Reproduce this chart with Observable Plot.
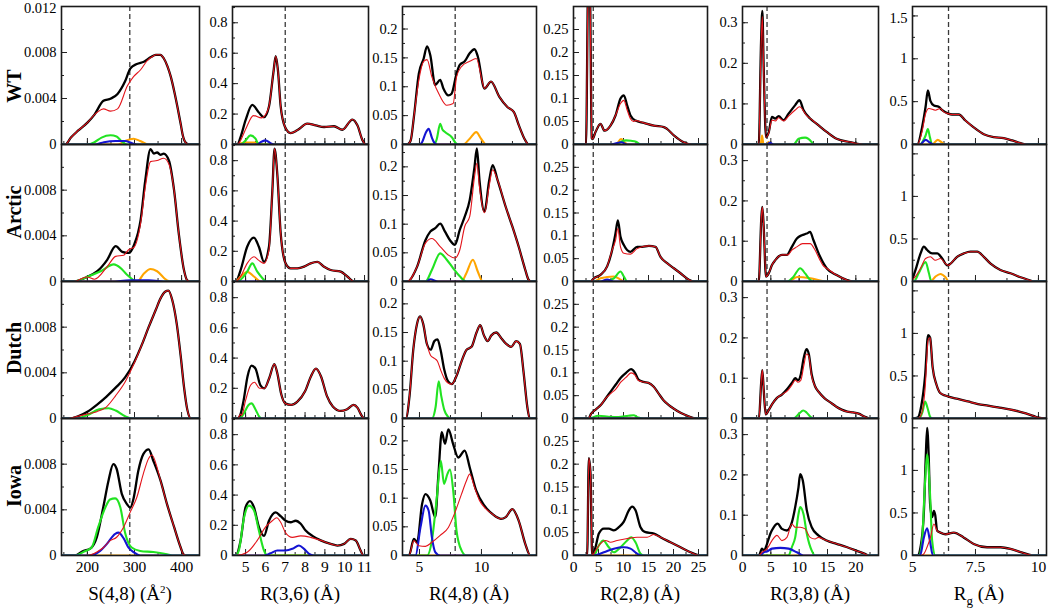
<!DOCTYPE html>
<html><head><meta charset="utf-8">
<script src="https://cdn.jsdelivr.net/npm/d3@7"></script>
<script src="https://cdn.jsdelivr.net/npm/@observablehq/plot@0.6"></script>
<style>
body{margin:0;background:#fff;}
#root{position:relative;width:1050px;height:611px;overflow:hidden;font-family:'Liberation Serif','Times New Roman',serif;color:#000;}
.panel{position:absolute;}
.panel svg{overflow:visible;}
.panel svg text{font-family:'Liberation Serif','Times New Roman',serif !important;}
.rowlab{position:absolute;font-weight:bold;font-size:20px;transform:translate(-50%,-50%) rotate(-90deg);white-space:nowrap;line-height:20px;}
.xtitle{position:absolute;font-size:19px;transform:translateX(-50%);white-space:nowrap;line-height:19px;}
.xtitle sup{font-size:11px;position:relative;top:-4px;vertical-align:top;}
.xtitle sub{font-size:13px;vertical-align:baseline;position:relative;top:5px;}
</style></head><body><div id="root"></div>
<script>
// ---------- labels ----------
const rowNames = ["WT", "Arctic", "Dutch", "Iowa"];
const xTitles = ["S(4,8) (Å<sup>2</sup>)", "R(3,6) (Å)", "R(4,8) (Å)", "R(2,8) (Å)", "R(3,8) (Å)", "R<sub>g</sub> (Å)"];
// ---------- axes ----------
const xDomains = [[145, 438], [4.34, 11.2], [3.63, 14.44], [0, 26.8], [0, 24], [5, 10.32]];
const yDomains = [[0, 0.012], [0, 0.907], [0, 0.239], [0, 0.3], [0, 0.34], [0, 1.61]];
const xTickLabels = [[200, 300, 400], [5, 6, 7, 8, 9, 10, 11], [5, 10], [0, 5, 10, 15, 20, 25], [0, 5, 10, 15, 20], [5, 7.5, 10]];
const xMinorStep = [50, 0.5, 2.5, 2.5, 2.5, 1.25];
const yTickLabels = [[0, 0.004, 0.008], [0, 0.2, 0.4, 0.6, 0.8], [0, 0.05, 0.1, 0.15, 0.2], [0, 0.05, 0.1, 0.15, 0.2, 0.25], [0, 0.1, 0.2, 0.3], [0, 0.5, 1]];
const yTopLabels = [[0.012], [], [], [], [], [1.5]];
const yMajorStep = [0.004, 0.2, 0.05, 0.05, 0.1, 0.5];
const yMinorStep = [0.002, 0.1, 0.025, 0.025, 0.05, 0.25];
const dashX = [290, 7, 7.88, 3.95, 4.33, 6.43];

// ---------- data: [x, y] points ----------
// red: only the part where it departs from black (elsewhere it lies on black)
const WT_S48 = {
  black: [[145,0],[153,0],[165,0.0006],[180,0.0012],[200,0.0019],[215,0.0026],[234,0.0038],[250,0.004],[264,0.0044],[280,0.0055],[291,0.0066],[305,0.007],[320,0.0072],[335,0.0076],[345,0.0078],[355,0.0078],[362,0.0075],[370,0.0068],[377,0.0059],[385,0.0045],[391,0.0033],[398,0.0018],[402,0.0009],[408,0.0002],[415,0],[438,0]],
  red: [[221,0.0028],[234,0.0031],[249,0.0029],[264,0.0031],[285,0.0051],[298,0.0059],[313,0.0065],[327,0.0073],[340,0.0077]],
  green: [[200,0],[215,0.0002],[230,0.0006],[249,0.0008],[262,0.0007],[272,0.0003],[285,0]],
  orange: [[265,0],[280,0.0003],[298,0.0005],[312,0.0003],[330,0]],
  blue: [[215,0],[235,0.0002],[260,0.0003],[280,0.0003],[295,0.0001],[305,0]]
};
const WT_R36 = {
  black: [[4.34,0],[4.58,0],[4.75,0.05],[5.0,0.16],[5.34,0.26],[5.67,0.21],[5.93,0.18],[6.18,0.25],[6.4,0.47],[6.52,0.58],[6.63,0.49],[6.77,0.25],[6.99,0.115],[7.27,0.075],[7.6,0.093],[8.11,0.137],[8.54,0.126],[8.96,0.115],[9.46,0.12],[9.88,0.097],[10.39,0.164],[10.64,0.126],[10.9,0.027],[11.06,0],[11.2,0]],
  red: [[4.75,0.027],[5.0,0.1],[5.4,0.19],[5.8,0.175],[6.1,0.22]],
  green: [[4.75,0],[5.0,0.027],[5.25,0.06],[5.5,0.038],[5.67,0]],
  orange: [[4.6,0],[4.75,0.008],[5.0,0.012],[5.5,0.012],[5.75,0.005],[5.9,0]],
  blue: [[5.6,0],[5.76,0.015],[6.0,0.027],[6.26,0.009],[6.43,0]]
};
const WT_R48 = {
  black: [[3.63,0],[4.02,0],[4.29,0.007],[4.55,0.048],[4.95,0.123],[5.34,0.149],[5.61,0.17],[5.87,0.155],[6.27,0.103],[6.67,0.112],[6.93,0.097],[7.33,0.085],[7.59,0.088],[7.99,0.123],[8.25,0.138],[8.65,0.144],[9.05,0.158],[9.44,0.165],[9.71,0.152],[10.24,0.097],[10.77,0.109],[11.43,0.083],[12.09,0.065],[12.62,0.056],[13.02,0.033],[13.54,0.007],[13.8,0],[14.44,0]],
  red: [[4.95,0.112],[5.34,0.144],[5.61,0.147],[6.0,0.117],[6.67,0.083],[7.2,0.068],[7.72,0.071],[7.99,0.117],[8.39,0.135],[9.05,0.144],[9.58,0.149],[10.1,0.106]],
  green: [[6.2,0],[6.4,0.01],[6.67,0.036],[6.85,0.026],[7.06,0.0215],[7.59,0.013],[7.99,0.001],[8.1,0]],
  orange: [[8.52,0],[9.05,0.01],[9.58,0.0215],[9.97,0.01],[10.37,0]],
  blue: [[5.0,0],[5.21,0.004],[5.5,0.02],[5.74,0.027],[6.0,0.012],[6.14,0.005],[6.4,0]]
};
const WT_R28 = {
  black: [[0,0],[2.5,0],[2.95,0.36],[3.25,0.36],[3.65,0.014],[3.8,0.012],[4.4,0.027],[5.4,0.045],[6.2,0.03],[7.4,0.041],[8.4,0.063],[9.4,0.1],[10.07,0.107],[10.73,0.085],[11.4,0.063],[12.4,0.052],[14.07,0.047],[16.07,0.041],[18.07,0.038],[18.7,0.034],[20.07,0.02],[22.07,0.005],[23.7,0],[26.8,0]],
  red: [[9.4,0.089],[10.07,0.096],[10.73,0.075],[11.4,0.056],[12.0,0.05]],
  green: [[8.5,0],[9.5,0.006],[10.5,0.009],[11.5,0.008],[12.5,0.006],[13.5,0]],
  orange: [[8.5,0],[9.5,0.012],[10.3,0.004],[10.8,0]],
  blue: [[7.4,0],[9.0,0.004],[9.6,0.005],[10.7,0]]
};
const WT_R38 = {
  black: [[0,0],[2.87,0],[3.27,0.25],[3.5,0.329],[3.74,0.19],[4.15,0.018],[4.62,0.03],[5.2,0.068],[5.79,0.064],[6.37,0.07],[7.25,0.06],[8.13,0.076],[9.3,0.097],[10.06,0.109],[10.76,0.085],[11.93,0.064],[13.1,0.051],[14.85,0.031],[16.6,0.014],[18.95,0.006],[21.3,0],[24,0]],
  red: [[3.27,0.24],[3.5,0.315],[3.74,0.185],[4.15,0.018],[4.62,0.028],[5.2,0.06],[5.79,0.058],[6.37,0.066],[7.25,0.058],[8.13,0.07],[9.3,0.085],[10.06,0.093],[11.3,0.072],[12.5,0.058]],
  green: [[9.0,0],[9.9,0.014],[11.05,0.017],[12.2,0.006],[12.5,0]],
  orange: [[3.2,0],[3.45,0.022],[3.7,0],[4.3,0],[4.6,0.006],[5.0,0]],
  blue: [[4.3,0],[4.8,0.004],[5.5,0]]
};
const WT_Rg = {
  black: [[5,0],[5.19,0],[5.38,0.2],[5.52,0.44],[5.61,0.63],[5.71,0.51],[5.85,0.455],[6.04,0.44],[6.18,0.4],[6.42,0.36],[6.57,0.35],[6.84,0.35],[7.1,0.28],[7.43,0.2],[7.83,0.12],[8.23,0.086],[8.62,0.074],[8.96,0.047],[9.29,0.016],[9.55,0],[10.32,0]],
  red: [[5.38,0.15],[5.52,0.36],[5.65,0.42],[5.91,0.4],[6.11,0.42],[6.24,0.38]],
  green: [[5.3,0],[5.45,0.06],[5.52,0.105],[5.61,0.18],[5.69,0.086],[5.78,0]],
  orange: [[5.78,0],[6.0,0.054],[6.16,0.025],[6.3,0]],
  blue: [[5.3,0],[5.52,0.054],[5.7,0.02],[5.85,0]]
};

const AR_S48 = {
  black: [[145,0],[171,0],[199,0.0004],[221,0.0009],[242,0.0019],[260,0.0031],[274,0.0026],[288,0.0025],[299,0.0032],[313,0.0054],[323,0.0089],[334,0.0116],[341,0.0112],[348,0.0113],[355,0.0111],[362,0.0112],[373,0.0106],[384,0.008],[394,0.0042],[405,0.001],[412,0.0001],[419,0],[438,0]],
  red: [[215,0.0002],[242,0.0013],[260,0.0022],[277,0.0023],[288,0.0028],[299,0.003],[313,0.0051],[323,0.0083],[334,0.0105],[348,0.0106],[362,0.0108],[373,0.0103]],
  green: [[171,0],[199,0.0004],[228,0.0009],[256,0.0015],[270,0.0012],[284,0.0006],[299,0.0001],[306,0]],
  orange: [[306,0],[320,0.0007],[334,0.0011],[348,0.0009],[369,0.0001],[376,0]],
  blue: [[250,0],[290,0.0001],[330,0.0001],[370,0]]
};
const AR_R36 = {
  black: [[4.34,0],[4.5,0],[4.75,0.076],[5.08,0.23],[5.42,0.29],[5.67,0.23],[5.93,0.13],[6.18,0.23],[6.35,0.6],[6.46,0.88],[6.6,0.71],[6.77,0.32],[7.02,0.12],[7.27,0.087],[7.61,0.087],[7.95,0.098],[8.28,0.12],[8.62,0.13],[8.96,0.098],[9.29,0.076],[9.8,0.065],[10.13,0.033],[10.47,0],[11.2,0]],
  red: [[4.75,0.033],[5.08,0.12],[5.42,0.164],[5.67,0.14],[5.93,0.12],[6.18,0.21]],
  green: [[4.58,0],[5.08,0.065],[5.34,0.12],[5.59,0.065],[5.93,0.01],[6.0,0]],
  orange: [[4.5,0],[4.75,0.033],[5.08,0.065],[5.42,0.033],[5.76,0]],
  blue: []
};
const AR_R48 = {
  black: [[3.63,0],[4.02,0],[4.81,0.026],[5.48,0.072],[5.87,0.087],[6.27,0.093],[6.67,0.101],[7.06,0.087],[7.46,0.072],[7.86,0.064],[8.25,0.09],[8.65,0.113],[9.05,0.142],[9.44,0.2],[9.63,0.232],[9.84,0.177],[10.24,0.122],[10.63,0.177],[10.9,0.203],[11.3,0.177],[11.96,0.13],[12.49,0.096],[13.0,0.061],[13.54,0.02],[13.8,0.003],[14.0,0],[14.44,0]],
  red: [[5.48,0.067],[6.0,0.075],[6.67,0.061],[7.33,0.046],[7.86,0.041],[8.25,0.055],[8.65,0.096],[9.05,0.113],[9.44,0.183],[9.63,0.206],[9.84,0.165],[10.24,0.12],[10.63,0.168],[10.9,0.195]],
  green: [[5.48,0],[6.0,0.02],[6.67,0.049],[7.2,0.038],[7.72,0.023],[8.25,0.009],[8.78,0]],
  orange: [[8.39,0],[8.78,0.0145],[9.31,0.038],[9.71,0.017],[10.1,0]],
  blue: [[5.6,0],[5.87,0.004],[6.5,0]]
};
const AR_R28 = {
  black: [[0,0],[3.4,0],[4.07,0.007],[5.4,0.0145],[6.73,0.033],[7.73,0.069],[8.4,0.105],[8.87,0.134],[9.4,0.098],[10.07,0.08],[11.4,0.065],[12.73,0.076],[13.73,0.076],[15.07,0.078],[16.4,0.076],[17.4,0.054],[18.73,0.04],[20.07,0.029],[21.4,0.018],[23.07,0.004],[24.07,0],[26.8,0]],
  red: [[8.4,0.09],[8.87,0.116],[9.4,0.076],[10.07,0.062],[11.4,0.06],[12.73,0.072]],
  green: [[6.07,0],[8.07,0.007],[9.4,0.022],[10.07,0.011],[10.73,0]],
  orange: [[4.0,0],[5.4,0.007],[8.07,0.011],[9.4,0.004],[10.07,0]],
  blue: [[5.4,0],[6.73,0.004],[8.07,0]]
};
const AR_R38 = {
  black: [[0,0],[2.87,0],[3.33,0.16],[3.5,0.185],[3.74,0.136],[4.15,0.012],[4.62,0.02],[5.2,0.041],[5.79,0.053],[6.37,0.062],[6.96,0.066],[7.84,0.066],[8.71,0.086],[9.59,0.107],[10.47,0.115],[11.35,0.119],[11.93,0.123],[12.51,0.103],[13.68,0.062],[14.85,0.033],[16.6,0.016],[18.36,0.004],[19.5,0],[24,0]],
  red: [[8.0,0.066],[8.71,0.078],[9.59,0.086],[10.6,0.094],[11.93,0.094],[12.8,0.078],[13.68,0.053],[14.2,0.04]],
  green: [[7.84,0],[9.0,0.012],[10.18,0.033],[11.05,0.02],[11.93,0.004],[12.5,0]],
  orange: [[8.0,0],[9.7,0.011],[12.0,0.008],[14.85,0]],
  blue: []
};
const AR_Rg = {
  black: [[5,0.03],[5.12,0.136],[5.32,0.33],[5.45,0.41],[5.58,0.37],[5.78,0.33],[5.98,0.33],[6.18,0.27],[6.38,0.19],[6.51,0.21],[6.77,0.29],[7.04,0.33],[7.3,0.35],[7.57,0.35],[7.83,0.29],[8.1,0.21],[8.49,0.136],[8.89,0.097],[9.29,0.05],[9.68,0.012],[9.8,0],[10.32,0]],
  red: [[5.0,0.02],[5.12,0.06],[5.32,0.155],[5.52,0.27],[5.71,0.29],[5.91,0.25],[6.11,0.27],[6.31,0.21],[6.44,0.19]],
  green: [[5.05,0],[5.25,0.1],[5.52,0.23],[5.65,0.1],[5.75,0]],
  orange: [[5.71,0],[5.91,0.058],[6.11,0.089],[6.31,0.05],[6.44,0]],
  blue: []
};

const DU_S48 = {
  black: [[145,0],[160,0],[180,0.0002],[200,0.0006],[220,0.0012],[240,0.0019],[260,0.0027],[280,0.0036],[300,0.005],[315,0.0064],[330,0.008],[345,0.0095],[355,0.0105],[365,0.0111],[372,0.0112],[380,0.0104],[390,0.0082],[398,0.0055],[405,0.0028],[412,0.0008],[420,0],[438,0]],
  red: [[200,0.0004],[220,0.0006],[240,0.001],[260,0.002],[280,0.0032],[300,0.0049]],
  green: [[175,0],[200,0.0003],[225,0.0008],[245,0.0009],[260,0.0007],[280,0.0002],[295,0]],
  orange: [],
  blue: []
};
const DU_R36 = {
  black: [[4.34,0],[4.6,0],[4.75,0.03],[4.9,0.12],[5.1,0.28],[5.3,0.35],[5.5,0.33],[5.75,0.22],[5.95,0.2],[6.2,0.27],[6.45,0.36],[6.6,0.3],[6.8,0.16],[7.0,0.1],[7.3,0.09],[7.6,0.11],[8.0,0.18],[8.3,0.28],[8.55,0.33],[8.8,0.28],[9.1,0.15],[9.4,0.08],[9.8,0.05],[10.1,0.06],[10.45,0.09],[10.65,0.07],[10.85,0.02],[11.0,0],[11.2,0]],
  red: [[4.8,0.02],[5.0,0.12],[5.25,0.22],[5.45,0.24],[5.7,0.2],[5.95,0.2]],
  green: [[4.7,0],[4.9,0.03],[5.15,0.09],[5.3,0.1],[5.5,0.06],[5.7,0.01],[5.8,0]],
  orange: [],
  blue: []
};
const DU_R48 = {
  black: [[3.63,0],[3.9,0],[4.2,0.04],[4.5,0.12],[4.8,0.165],[5.05,0.178],[5.3,0.165],[5.6,0.13],[5.9,0.12],[6.2,0.135],[6.45,0.138],[6.7,0.12],[7.0,0.085],[7.3,0.065],[7.6,0.06],[8.0,0.075],[8.4,0.1],[8.8,0.12],[9.2,0.125],[9.6,0.15],[9.9,0.163],[10.2,0.145],[10.5,0.135],[10.8,0.145],[11.2,0.15],[11.6,0.14],[12.0,0.13],[12.4,0.125],[12.8,0.135],[13.1,0.13],[13.4,0.08],[13.7,0.02],[13.9,0],[14.44,0]],
  red: [[5.9,0.11],[6.2,0.105],[6.45,0.1],[6.7,0.085],[7.0,0.07],[7.3,0.062]],
  green: [[6.0,0],[6.3,0.02],[6.55,0.065],[6.75,0.04],[7.0,0.015],[7.3,0.003],[7.5,0]],
  orange: [],
  blue: []
};
const DU_R28 = {
  black: [[0,0],[3,0],[3.5,0.01],[4.5,0.02],[5.5,0.03],[6.5,0.045],[7.5,0.06],[8.5,0.075],[9.5,0.09],[10.5,0.1],[11.5,0.108],[12.3,0.1],[13,0.085],[14,0.08],[15,0.078],[16,0.07],[17,0.055],[18,0.04],[19,0.03],[20,0.022],[21.5,0.012],[23,0.005],[24.5,0],[26.8,0]],
  red: [[7.5,0.055],[8.5,0.065],[9.5,0.08],[10.5,0.09],[11.5,0.1],[12.3,0.095],[13,0.083]],
  green: [[3,0],[5,0.006],[7,0.004],[9,0.003],[11,0.006],[12,0.007],[13,0.002],[14,0]],
  orange: [],
  blue: []
};
const DU_R38 = {
  black: [[0,0],[2.9,0],[3.3,0.09],[3.5,0.12],[3.75,0.07],[4.1,0.01],[4.6,0.02],[5.2,0.035],[6,0.05],[7,0.06],[8,0.075],[8.8,0.09],[9.3,0.1],[9.8,0.095],[10.3,0.11],[10.8,0.15],[11.3,0.172],[11.7,0.16],[12.2,0.11],[12.8,0.08],[13.5,0.065],[14.5,0.05],[15.5,0.04],[16.5,0.03],[17.5,0.022],[18.5,0.017],[19.5,0.015],[20.5,0.012],[21.5,0.005],[22.5,0],[24,0]],
  red: [[8,0.07],[8.8,0.085],[9.3,0.095],[9.8,0.09],[10.3,0.095],[10.8,0.13],[11.3,0.16],[11.7,0.155],[12.2,0.105]],
  green: [[9,0],[10,0.012],[10.7,0.02],[11.3,0.015],[12,0.004],[12.5,0]],
  orange: [],
  blue: []
};
const DU_Rg = {
  black: [[5,0],[5.2,0.01],[5.35,0.15],[5.5,0.5],[5.62,0.98],[5.7,0.95],[5.8,0.6],[5.95,0.4],[6.1,0.3],[6.3,0.27],[6.5,0.25],[6.8,0.23],[7.2,0.2],[7.6,0.17],[8,0.15],[8.4,0.13],[8.8,0.11],[9.2,0.085],[9.5,0.06],[9.8,0.03],[10,0.01],[10.32,0]],
  red: [[5.2,0],[5.35,0.05],[5.5,0.35],[5.62,0.92]],
  green: [[5.25,0],[5.4,0.08],[5.5,0.2],[5.6,0.12],[5.7,0.02],[5.8,0]],
  orange: [],
  blue: []
};

const IO_S48 = {
  black: [[145,0],[174,0],[191,0.0004],[206,0.0006],[220,0.0016],[234,0.0043],[245,0.0066],[255,0.008],[262,0.0076],[273,0.0054],[284,0.0045],[291,0.0042],[298,0.005],[308,0.0074],[319,0.0089],[330,0.0093],[340,0.0083],[355,0.0066],[369,0.0045],[384,0.0025],[398,0.0007],[404,0.0001],[411,0],[438,0]],
  red: [[145,0],[199,0],[220,0.0003],[234,0.0007],[248,0.0013],[262,0.0016],[277,0.0025],[291,0.0038],[305,0.0051],[319,0.0072],[330,0.0085],[337,0.0088],[348,0.0077]],
  green: [[174,0],[191,0.0003],[209,0.0007],[223,0.0025],[238,0.0042],[248,0.0049],[259,0.005],[270,0.0042],[280,0.002],[294,0.0007],[312,0.0004],[340,0.0003],[369,0.0001],[380,0]],
  orange: [],
  blue: [[206,0],[227,0.0004],[241,0.001],[259,0.0019],[266,0.002],[277,0.0015],[287,0.0007],[298,0.0003],[312,0]]
};
const IO_R36 = {
  black: [[4.34,0],[4.5,0],[4.75,0.1],[5.0,0.32],[5.22,0.36],[5.42,0.32],[5.67,0.19],[5.93,0.13],[6.18,0.23],[6.52,0.285],[6.77,0.26],[7.02,0.23],[7.27,0.22],[7.53,0.23],[7.78,0.21],[8.03,0.165],[8.37,0.13],[8.79,0.1],[9.29,0.077],[9.63,0.066],[9.97,0.077],[10.3,0.11],[10.56,0.1],[10.8,0.033],[10.95,0],[11.2,0]],
  red: [[4.5,0],[5.08,0.022],[5.59,0.1],[6.01,0.19],[6.35,0.23],[6.57,0.25],[6.77,0.22],[7.02,0.15],[7.36,0.12],[7.78,0.13],[8.28,0.12],[8.79,0.1]],
  green: [[4.5,0],[4.66,0.033],[4.92,0.25],[5.17,0.33],[5.42,0.3],[5.67,0.165],[5.93,0.033],[6.09,0]],
  orange: [],
  blue: [[5.93,0],[6.26,0.015],[6.6,0.033],[7.02,0.033],[7.36,0.044],[7.69,0.066],[7.95,0.044],[8.2,0.011],[8.45,0]]
};
const IO_R48 = {
  black: [[3.63,0],[4.15,0],[4.55,0.029],[4.81,0.023],[5.21,0.09],[5.48,0.107],[5.87,0.096],[6.27,0.067],[6.53,0.142],[6.8,0.215],[7.06,0.195],[7.33,0.22],[7.72,0.194],[8.12,0.171],[8.65,0.183],[9.05,0.154],[9.58,0.113],[10.24,0.087],[10.9,0.072],[11.56,0.064],[11.96,0.067],[12.49,0.081],[13.0,0.061],[13.54,0.02],[13.94,0],[14.44,0]],
  red: [[4.55,0.026],[4.95,0.017],[5.48,0.016],[6.0,0.023],[6.67,0.035],[7.33,0.049],[7.86,0.075],[8.39,0.107],[8.78,0.13],[9.05,0.142],[9.44,0.119],[9.84,0.096],[10.24,0.084]],
  green: [[5.61,0],[6.0,0.026],[6.4,0.101],[6.72,0.165],[6.98,0.125],[7.25,0.142],[7.46,0.15],[7.72,0.113],[7.99,0.043],[8.39,0.009],[8.78,0]],
  orange: [],
  blue: [[4.68,0],[5.08,0.049],[5.48,0.087],[5.74,0.078],[6.0,0.032],[6.27,0.006],[6.67,0]]
};
const IO_R28 = {
  black: [[0,0],[2.73,0],[3.07,0.213],[3.4,0.18],[3.73,0],[4.4,0.018],[5.07,0.048],[6.07,0.059],[7.07,0.059],[8.07,0.055],[9.07,0.062],[10.07,0.074],[11.07,0.099],[11.73,0.107],[12.4,0.099],[13.4,0.062],[14.4,0.051],[16.07,0.048],[17.4,0.04],[19.4,0.029],[21.4,0.018],[23.4,0.007],[25.4,0],[26.8,0]],
  red: [[4.4,0.011],[5.4,0.026],[6.4,0.033],[7.4,0.029],[8.73,0.033],[10.73,0.037],[12.73,0.04],[14.73,0.04],[16.07,0.046]],
  green: [[4.07,0],[5.07,0.022],[5.93,0.033],[7.07,0.018],[8.07,0.007],[9.4,0.018],[10.73,0.033],[11.53,0.04],[12.4,0.029],[13.4,0.004],[14.07,0]],
  orange: [],
  blue: [[4.0,0],[6.07,0.007],[8.07,0.015],[10.07,0.018],[11.4,0.015],[12.73,0.004],[13.73,0]]
};
const IO_R38 = {
  black: [[0,0],[2.87,0],[3.45,0.017],[3.8,0.012],[4.33,0.029],[4.91,0.054],[5.5,0.07],[6.2,0.079],[6.96,0.066],[7.84,0.062],[8.71,0.082],[9.3,0.12],[9.88,0.169],[10.18,0.202],[10.64,0.186],[11.35,0.112],[12.22,0.07],[13.39,0.05],[14.85,0.037],[16.6,0.029],[18.36,0.021],[20.1,0.012],[21.6,0.004],[22.2,0],[24,0]],
  red: [[3.45,0.008],[4.33,0.017],[5.2,0.037],[6.08,0.05],[6.96,0.037],[7.84,0.045],[8.71,0.078],[9.3,0.07],[10.18,0.07],[11.05,0.066],[11.93,0.045],[12.8,0.041],[13.39,0.045]],
  green: [[8.13,0],[8.71,0.021],[9.3,0.045],[9.88,0.103],[10.18,0.12],[10.76,0.103],[11.35,0.054],[12.22,0.012],[12.8,0]],
  orange: [],
  blue: [[3.16,0],[3.74,0.008],[4.33,0.01],[5.2,0.017],[6.67,0.019],[8.13,0.017],[9.59,0.008],[10.76,0]]
};
const IO_Rg = {
  black: [[5,0],[5.2,0],[5.32,0.1],[5.45,0.5],[5.52,1.1],[5.58,1.5],[5.64,1.2],[5.7,0.6],[5.78,0.45],[5.85,0.525],[5.9,0.48],[5.98,0.29],[6.1,0.27],[6.31,0.25],[6.64,0.27],[7.04,0.21],[7.43,0.136],[7.96,0.097],[8.49,0.097],[8.89,0.078],[9.29,0.04],[9.62,0.01],[9.8,0],[10.32,0]],
  red: [[5.3,0],[5.45,0.02],[5.58,0.1],[5.71,0.21],[5.85,0.37],[5.98,0.29]],
  green: [[5.25,0],[5.38,0.175],[5.48,0.76],[5.58,1.19],[5.69,0.76],[5.78,0.175],[5.91,0]],
  orange: [],
  blue: [[5.3,0],[5.45,0.21],[5.58,0.32],[5.69,0.175],[5.81,0]]
};

const PANELS = [
  [WT_S48, WT_R36, WT_R48, WT_R28, WT_R38, WT_Rg],
  [AR_S48, AR_R36, AR_R48, AR_R28, AR_R38, AR_Rg],
  [DU_S48, DU_R36, DU_R48, DU_R28, DU_R38, DU_Rg],
  [IO_S48, IO_R36, IO_R48, IO_R28, IO_R38, IO_Rg]
];

// ---------- layout ----------
const colLeft = [61, 232, 402, 573, 742, 912];
const colRight = [199, 368, 536, 707, 878, 1046];
const rowTop = [6, 144, 281, 418];
const rowBottom = [144, 281, 418, 555];
const rowLabelY = [86, 212, 348, 486];
const FONT = "'Liberation Serif', 'Times New Roman', serif";
const colors = {black: "#000000", red: "#e3141b", green: "#22e322", orange: "#ffa500", blue: "#1414d2"};
const widths = {black: 2.3, red: 1.1, green: 2.1, orange: 2.1, blue: 2.1};

function mergeRed(black, diff) {
  if (!diff || !diff.length) return black;
  const a = diff[0][0], b = diff[diff.length - 1][0];
  return [...black.filter(p => p[0] < a), ...diff, ...black.filter(p => p[0] > b)];
}
function padZero(pts, xd) {
  const out = pts.slice();
  if (!out.length) return [[xd[0], 0], [xd[1], 0]];
  if (out[0][0] > xd[0]) out.unshift([xd[0], 0]);
  if (out[out.length - 1][0] < xd[1]) out.push([xd[1], 0]);
  return out;
}
function steps(d, s) {
  const a = Math.ceil(d[0] / s - 1e-9) * s;
  return d3.range(a, d[1] + s * 1e-6, s).map(v => +v.toFixed(6));
}
const root = document.getElementById("root");

for (let r = 0; r < 4; r++) {
  for (let c = 0; c < 6; c++) {
    const d = PANELS[r][c];
    const W = colRight[c] - colLeft[c];
    const H = rowBottom[r] - rowTop[r];
    const ml = 50, mr = 4, mt = 4, mb = r === 3 ? 30 : 4;
    const xd = xDomains[c], yd = yDomains[c];
    const black = d.black;
    const red = mergeRed(black, d.red);
    const line = (pts, key) => Plot.line(pts, {x: p => p[0], y: p => p[1], stroke: colors[key], strokeWidth: widths[key], curve: "monotone-x", clip: true, strokeLinejoin: "round"});
    const axisOpts = {tickSize: 0, tickPadding: 5, tickFormat: v => String(v), label: null, fontSize: 14.5, fontFamily: FONT, fill: "#000"};
    const marks = [
      Plot.ruleX([dashX[c]], {x: v => v, stroke: "#3a3a3a", strokeWidth: 1.3, strokeDasharray: "5,3"}),
      Plot.tickY(steps(yd, yMinorStep[c]), {y: v => v, stroke: "#222", strokeWidth: 1, insetRight: W - 3}),
      Plot.tickY(steps(yd, yMajorStep[c]), {y: v => v, stroke: "#222", strokeWidth: 1, insetRight: W - 6}),
      Plot.tickX(steps(xd, xMinorStep[c]), {x: v => v, stroke: "#222", strokeWidth: 1, insetTop: H - 3}),
      Plot.tickX(xTickLabels[c].filter(v => v >= xd[0] && v <= xd[1]), {x: v => v, stroke: "#222", strokeWidth: 1, insetTop: H - 6}),
      line(black, "black"),
      line(padZero(d.orange, xd), "orange"),
      line(padZero(d.green, xd), "green"),
      line(padZero(d.blue, xd), "blue"),
      line(red, "red"),
      Plot.axisY(yTickLabels[c], axisOpts),
      Plot.frame({stroke: "#1a1a1a", strokeWidth: 1.6})
    ];
    if (r === 0 && yTopLabels[c].length) {
      marks.push(Plot.axisY(yTopLabels[c], {...axisOpts, dy: 2}));
    }
    if (r === 3) {
      marks.push(Plot.axisX(xTickLabels[c], {tickSize: 0, tickPadding: 5, tickFormat: v => String(v), label: null, fontSize: 15.5, fontFamily: FONT, fill: "#000"}));
    }
    const xScale = {domain: xd};
    if (r !== 3) xScale.axis = null;
    const chart = Plot.plot({
      width: W + ml + mr,
      height: H + mt + mb,
      marginLeft: ml, marginRight: mr, marginTop: mt, marginBottom: mb,
      x: xScale,
      y: {domain: yd},
      style: {fontFamily: FONT, fontSize: "14.5px", color: "#000", background: "transparent", overflow: "visible"},
      marks
    });
    const div = document.createElement("div");
    div.className = "panel";
    div.style.left = (colLeft[c] - ml) + "px";
    div.style.top = (rowTop[r] - mt) + "px";
    div.appendChild(chart);
    root.appendChild(div);
  }
}
// row labels
rowNames.forEach((name, r) => {
  const el = document.createElement("div");
  el.className = "rowlab";
  el.textContent = name;
  el.style.left = "14px";
  el.style.top = rowLabelY[r] + "px";
  root.appendChild(el);
});
// x titles
xTitles.forEach((t, c) => {
  const el = document.createElement("div");
  el.className = "xtitle";
  el.innerHTML = t;
  el.style.left = ((colLeft[c] + colRight[c]) / 2) + "px";
  el.style.top = "584px";
  root.appendChild(el);
});
</script></body></html>
